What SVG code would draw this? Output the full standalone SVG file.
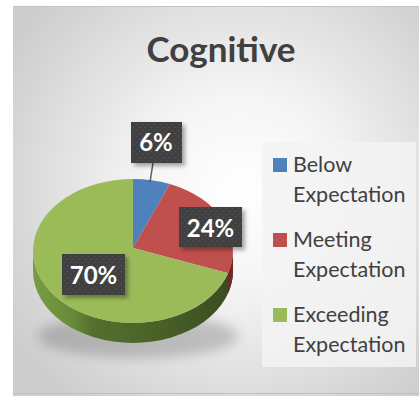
<svg xmlns="http://www.w3.org/2000/svg" width="419" height="396" viewBox="0 0 419 396">
<style>
.lt{font-family:Lato,"Open Sans","Liberation Sans",sans-serif;font-size:21.5px;fill:#404040}
.lb{font-family:Lato,"Open Sans","Liberation Sans",sans-serif;font-weight:bold;font-size:24px;fill:#ffffff;text-anchor:middle}
.box{fill:url(#dots);filter:url(#ds)}
</style>
<defs>
<radialGradient id="bg" cx="240" cy="190" r="270" gradientUnits="userSpaceOnUse">
<stop offset="0" stop-color="#ffffff"/>
<stop offset="0.35" stop-color="#f5f5f5"/>
<stop offset="1" stop-color="#cdcdcd"/>
</radialGradient>
<linearGradient id="side" x1="33" y1="0" x2="233" y2="0" gradientUnits="userSpaceOnUse">
<stop offset="0" stop-color="#7a9c45"/>
<stop offset="0.2" stop-color="#678a39"/>
<stop offset="0.3" stop-color="#53702e"/>
<stop offset="0.6" stop-color="#4a6228"/>
<stop offset="1" stop-color="#3b4b1f"/>
</linearGradient>
<pattern id="dots" width="6" height="6" patternUnits="userSpaceOnUse">
<rect width="6" height="6" fill="#3f3f3f"/>
<circle cx="1.5" cy="1.5" r="0.8" fill="#5a5a5a"/>
<circle cx="4.5" cy="4.5" r="0.8" fill="#525252"/>
</pattern>
<filter id="ds" x="-20%" y="-20%" width="150%" height="160%">
<feDropShadow dx="3" dy="3" stdDeviation="2" flood-color="#000" flood-opacity="0.35"/>
</filter>
<filter id="blur" x="-30%" y="-100%" width="160%" height="300%">
<feGaussianBlur stdDeviation="6"/>
</filter>
</defs>
<g id="background">
<rect x="13" y="6" width="406" height="390" fill="url(#bg)"/>
<line x1="13" y1="6.5" x2="419" y2="6.5" stroke="#c4c4c4" stroke-width="1"/>
<line x1="13" y1="393.5" x2="419" y2="393.5" stroke="#c0c0c0" stroke-width="1"/>
</g>
<g id="title">
<text x="221" y="62" font-family="Lato,'Open Sans','Liberation Sans',sans-serif" font-weight="bold" font-size="35" fill="#404040" text-anchor="middle">Cognitive</text>
</g>
<g id="pie">
<ellipse cx="138" cy="336" rx="100" ry="22" fill="#000" opacity="0.18" filter="url(#blur)"/>
<path id="side-green" d="M33,251 A100,72 0 0,0 233,251 L233,271 A100,72 0 0,1 33,271 Z" fill="url(#side)"/>
<path id="side-red" d="M233,251 A100,72 0 0,1 228.1,273.2 L228.1,293.2 A100,72 0 0,0 233,271 Z" fill="#6e2b29"/>
<path id="slice-below" d="M133,248 L133,179 A100,72 0 0,1 169.8,184.1 Z" fill="#4f81bd"/>
<path id="slice-meeting" d="M133,248 L169.8,184.1 A100,72 0 0,1 228.1,273.2 Z" fill="#c0504d"/>
<path id="slice-exceeding" d="M133,248 L228.1,273.2 A100,72 0 1,1 133,179 Z" fill="#9bbb59"/>
</g>
<g id="connectors">
<line x1="153" y1="163" x2="150" y2="182" stroke="#595959" stroke-width="1.5"/>
</g>
<g id="label-6">
<rect class="box" x="131" y="122" width="51" height="41"/>
<text class="lb" x="156" y="151">6%</text>
</g>
<g id="label-24">
<rect class="box" x="179" y="207" width="63" height="40"/>
<text class="lb" x="210.5" y="237">24%</text>
</g>
<g id="label-70">
<rect class="box" x="62" y="254" width="63" height="41"/>
<text class="lb" x="93.5" y="284">70%</text>
</g>
<g id="legend">
<rect x="262" y="142" width="154" height="225" fill="#f3f3f3" opacity="0.85"/>
<g id="legend-below">
<rect x="273" y="158" width="14" height="14" fill="#4f81bd"/>
<text class="lt" x="293" y="172">Below</text>
<text class="lt" x="293" y="202">Expectation</text>
</g>
<g id="legend-meeting">
<rect x="273" y="233" width="14" height="14" fill="#c0504d"/>
<text class="lt" x="293" y="247">Meeting</text>
<text class="lt" x="293" y="277">Expectation</text>
</g>
<g id="legend-exceeding">
<rect x="273" y="308" width="14" height="14" fill="#9bbb59"/>
<text class="lt" x="293" y="322">Exceeding</text>
<text class="lt" x="293" y="352">Expectation</text>
</g>
</g>
</svg>
